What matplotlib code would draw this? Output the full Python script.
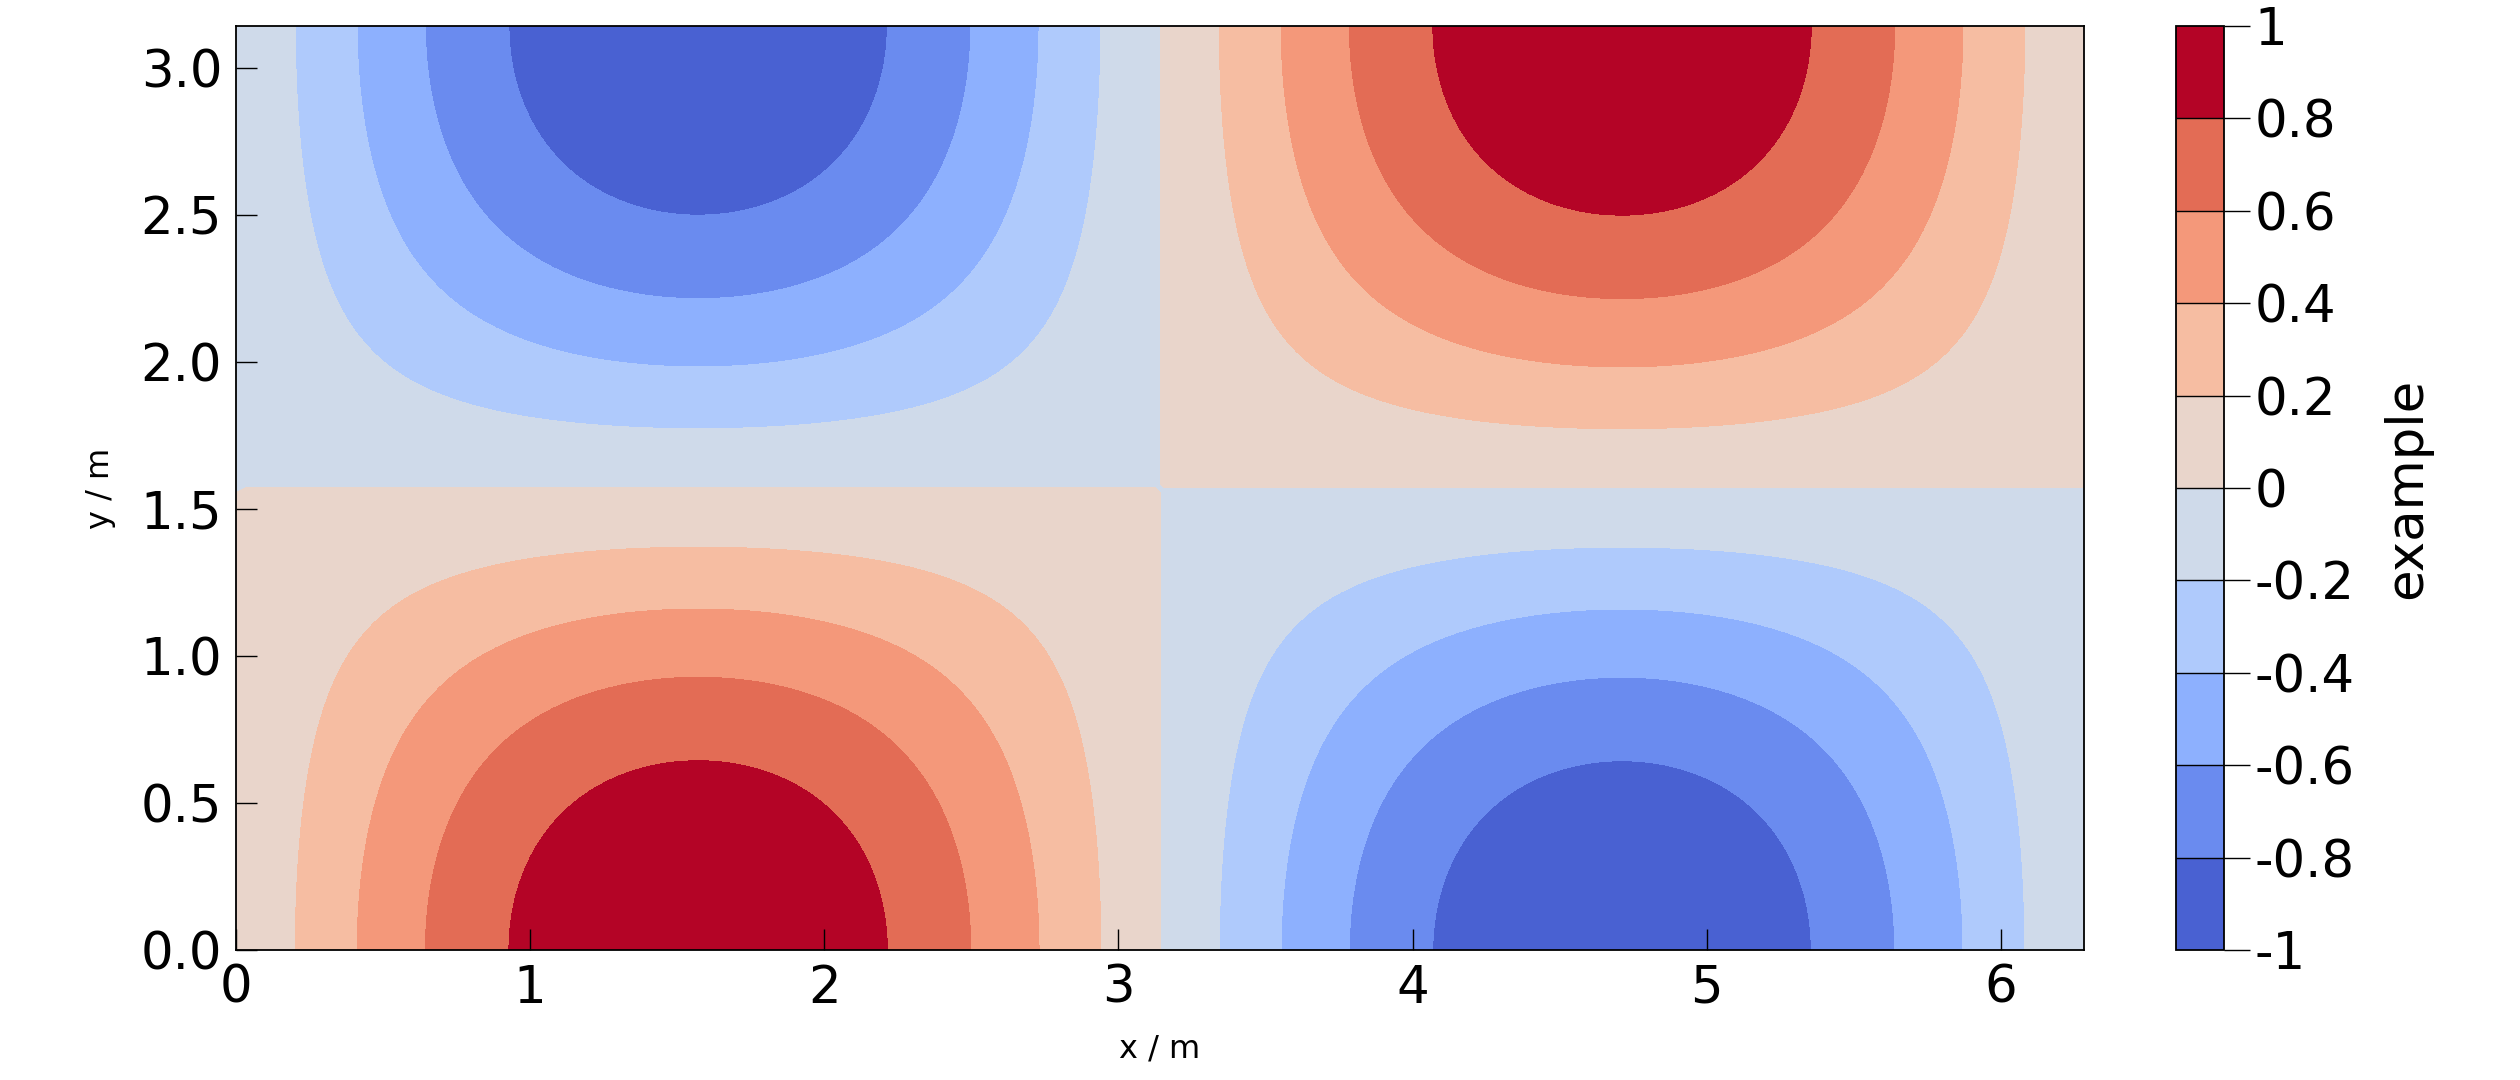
import numpy as np
import matplotlib
matplotlib.use('Agg')
import matplotlib.pyplot as plt

# grid and field
x = np.linspace(0, 2 * np.pi, 200)
y = np.linspace(0, np.pi, 100)
X, Y = np.meshgrid(x, y)
Z = np.sin(X) * np.cos(Y)

levels = np.linspace(-1, 1, 11)
level_labels = ['-1', '-0.8', '-0.6', '-0.4', '-0.2', '0', '0.2', '0.4', '0.6', '0.8', '1']
xticks = [0, 1, 2, 3, 4, 5, 6]
yticks = [0.0, 0.5, 1.0, 1.5, 2.0, 2.5, 3.0]

plt.rcParams['axes.unicode_minus'] = False
plt.rcParams['axes.linewidth'] = 1.3

# layer colours: coolwarm at the band middles, top band at the end of the map
cw = plt.get_cmap('coolwarm')
mids = (levels[:-1] + levels[1:]) / 2
pos = (mids - levels[0]) / (levels[-1] - levels[0])
pos[-1] = 1.0
layer_colors = [cw(p) for p in pos]

fig = plt.figure(figsize=(25.2, 10.8), dpi=100)
ax = fig.add_axes([0.0937, 0.1204, 0.7333, 0.8556])
cax = fig.add_axes([0.8635, 0.1204, 0.019, 0.8556])

cs = ax.contourf(X, Y, Z, levels=levels, colors=layer_colors)
ax.set_xlim(0, 2 * np.pi)
ax.set_ylim(0, np.pi)
ax.set_xticks(xticks)
ax.set_xticklabels([str(t) for t in xticks])
ax.set_yticks(yticks)
ax.set_yticklabels(['%.1f' % t for t in yticks])
ax.tick_params(direction='in', length=15, width=1, labelsize=37, pad=10)
ax.set_xlabel('x / m', fontsize=23, labelpad=14)
ax.set_ylabel('y / m', fontsize=23, labelpad=18)

cb = fig.colorbar(cs, cax=cax, drawedges=True)
cb.set_ticks(levels)
cb.set_ticklabels(level_labels)
cb.ax.tick_params(direction='out', length=19, width=1, labelsize=37, pad=3)
cb.outline.set_linewidth(1.3)
cb.dividers.set_linewidth(1)
cb.set_label('example', fontsize=37, labelpad=20)

fig.savefig('out.png', dpi=100)
